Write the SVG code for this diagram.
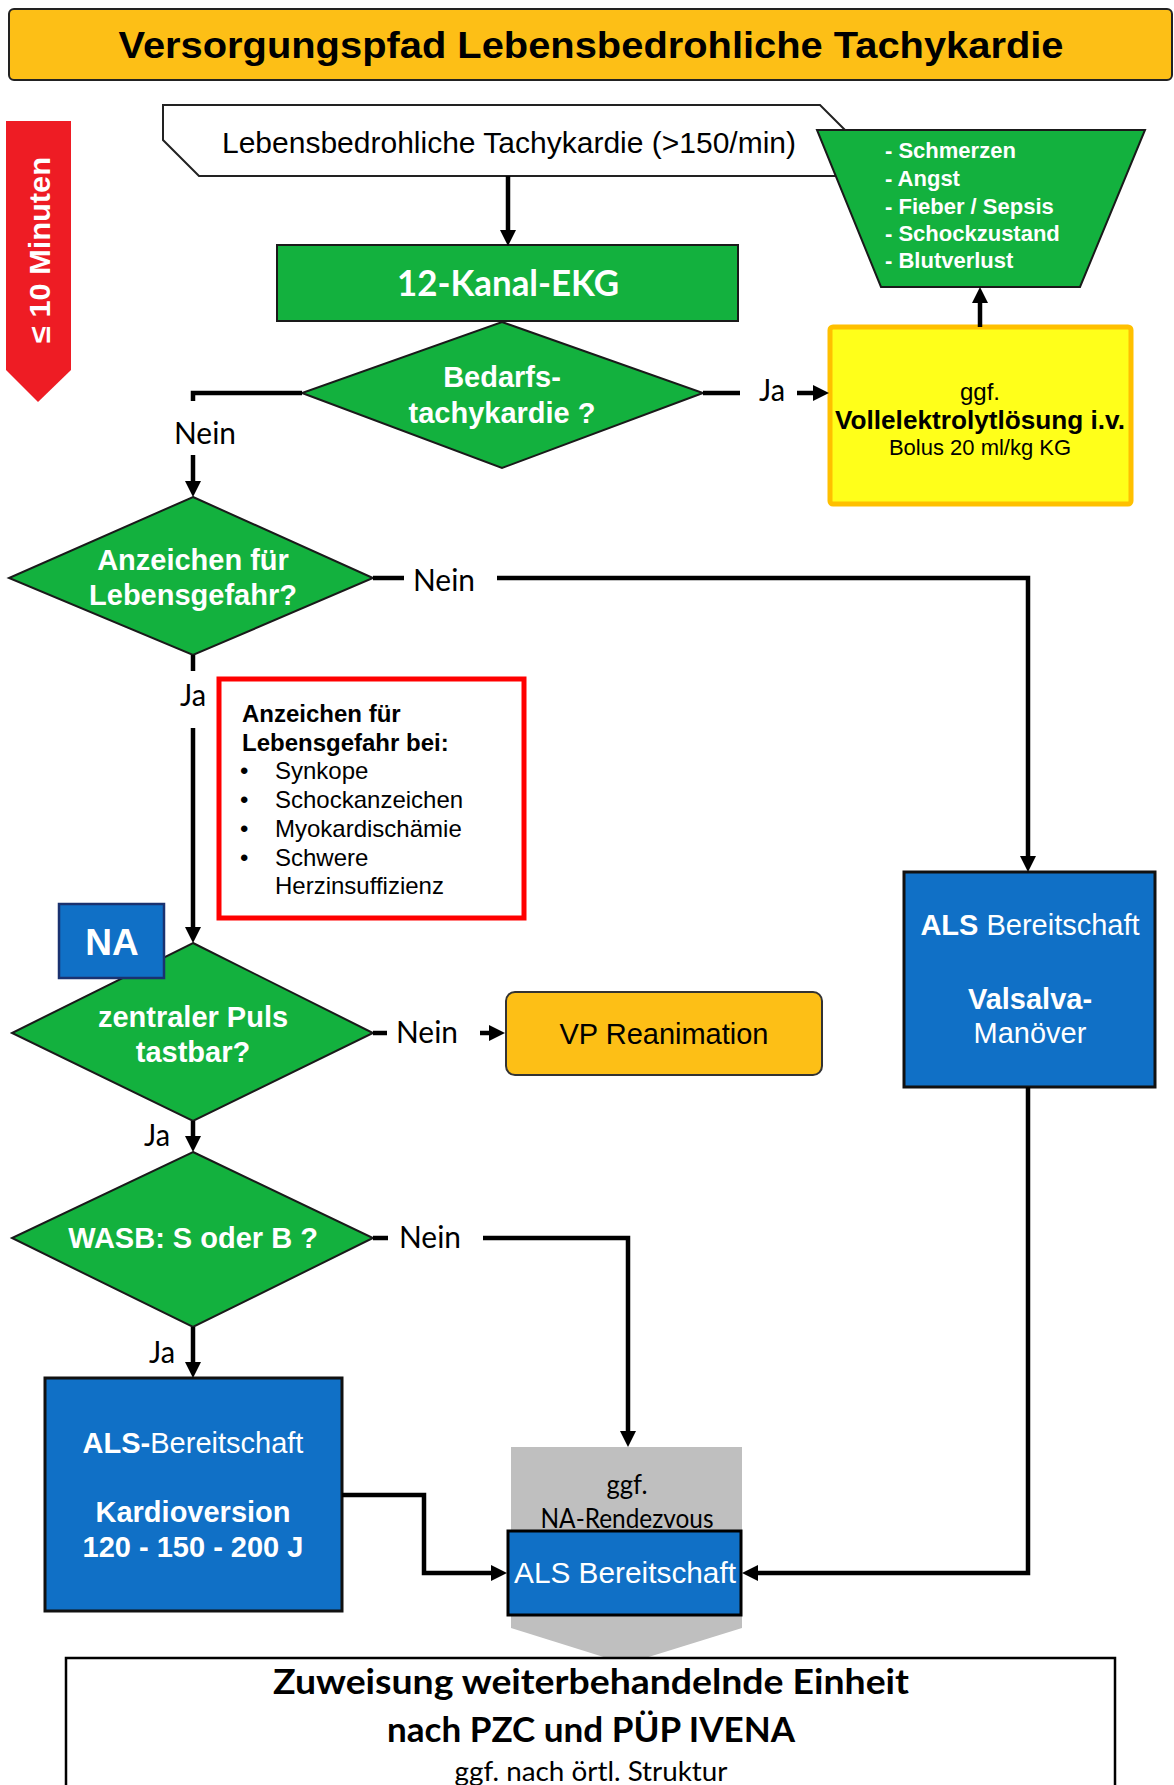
<svg xmlns="http://www.w3.org/2000/svg" width="1174" height="1785" viewBox="0 0 1174 1785">
<style>
.ar{font-family:"Liberation Sans",Arial,sans-serif}
.cb{font-family:Lato,"Liberation Sans",sans-serif}
.w{fill:#fff}
.k{fill:#000}
.b{font-weight:bold}
.mid{text-anchor:middle}
.green{fill:#13B13E;stroke:#1a1a1a;stroke-width:2}
.blue{fill:#1070C6;stroke:#111;stroke-width:3}
.conn{fill:none;stroke:#000;stroke-width:4.5;stroke-linejoin:miter}
.lbl{font-family:Lato,"Liberation Sans",sans-serif;font-size:30px;fill:#000;text-anchor:middle}
</style>
<defs>
<marker id="ah" markerUnits="userSpaceOnUse" viewBox="0 0 16 16" refX="6" refY="8" markerWidth="16" markerHeight="16" orient="auto">
<path d="M0,0 L16,8 L0,16 z" fill="#000"/>
</marker>
</defs>
<rect width="1174" height="1785" fill="#fff"/>

<g id="title">
<rect x="9" y="9" width="1163" height="71" rx="5" fill="#FDBF16" stroke="#222" stroke-width="2"/>
<text class="ar b k mid" x="591" y="58" font-size="37" textLength="945" lengthAdjust="spacingAndGlyphs">Versorgungspfad Lebensbedrohliche Tachykardie</text>
</g>

<g id="time">
<polygon points="6,121 71,121 71,370 38,402 6,370" fill="#EE1C24"/>
<text class="ar b w mid" font-size="29" transform="translate(50,250) rotate(-90)" textLength="186" lengthAdjust="spacingAndGlyphs">≤ 10 Minuten</text>
</g>

<g id="start">
<polygon points="163,105 820,105 855,140 855,176 199,176 163,140" fill="#fff" stroke="#222" stroke-width="2"/>
<text class="ar k" x="222" y="153" font-size="29" textLength="574" lengthAdjust="spacingAndGlyphs">Lebensbedrohliche Tachykardie (&gt;150/min)</text>
</g>

<g id="causes">
<polygon points="817,130 1145,130 1080,287 881,287" class="green"/>
<g class="ar b w" font-size="22">
<text x="885" y="158">- Schmerzen</text>
<text x="885" y="186">- Angst</text>
<text x="885" y="214">- Fieber / Sepsis</text>
<text x="885" y="241">- Schockzustand</text>
<text x="885" y="268">- Blutverlust</text>
</g>
</g>

<g id="ekg">
<rect x="277" y="245" width="461" height="76" class="green" stroke-width="2.5"/>
<text class="cb b w mid" x="508" y="296" font-size="36" textLength="222" lengthAdjust="spacingAndGlyphs">12-Kanal-EKG</text>
</g>

<g id="d1">
<polygon points="502,322 703,393 502,468 302,393" class="green"/>
<text class="ar b w mid" x="502" y="387" font-size="29">Bedarfs-</text>
<text class="ar b w mid" x="502" y="423" font-size="29">tachykardie ?</text>
</g>

<g id="volume">
<rect x="830" y="327" width="301" height="177" rx="3" fill="#FFFF1A" stroke="#FFC000" stroke-width="5"/>
<text class="ar k mid" x="980" y="400" font-size="24">ggf.</text>
<text class="ar b k mid" x="980" y="429" font-size="25" textLength="290" lengthAdjust="spacingAndGlyphs">Vollelektrolytlösung i.v.</text>
<text class="ar k mid" x="980" y="455" font-size="22">Bolus 20 ml/kg KG</text>
</g>

<g id="d2">
<polygon points="193,497 373,578 193,655 9,578" class="green"/>
<text class="ar b w mid" x="193" y="570" font-size="29">Anzeichen für</text>
<text class="ar b w mid" x="193" y="605" font-size="29">Lebensgefahr?</text>
</g>

<g id="signs">
<rect x="219" y="679" width="305" height="239" fill="#fff" stroke="#FF0000" stroke-width="5"/>
<g class="ar k" font-size="24">
<text class="b" x="242" y="722">Anzeichen für</text>
<text class="b" x="242" y="751">Lebensgefahr bei:</text>
<text x="240" y="779">•</text><text x="275" y="779">Synkope</text>
<text x="240" y="808">•</text><text x="275" y="808">Schockanzeichen</text>
<text x="240" y="837">•</text><text x="275" y="837">Myokardischämie</text>
<text x="240" y="866">•</text><text x="275" y="866">Schwere</text>
<text x="275" y="894">Herzinsuffizienz</text>
</g>
</g>

<g id="d3">
<polygon points="193,943 373,1033 193,1121 12,1033" class="green"/>
<text class="ar b w mid" x="193" y="1027" font-size="29">zentraler Puls</text>
<text class="ar b w mid" x="193" y="1062" font-size="29">tastbar?</text>
</g>

<g id="na">
<rect x="59" y="904" width="105" height="74" fill="#1070C6" stroke="#1A3270" stroke-width="2.5"/>
<text class="ar b w mid" x="112" y="955" font-size="37">NA</text>
</g>

<g id="vp">
<rect x="506" y="992" width="316" height="83" rx="9" fill="#FDBF16" stroke="#333" stroke-width="2"/>
<text class="ar k mid" x="664" y="1044" font-size="29">VP Reanimation</text>
</g>

<g id="valsalva">
<rect x="904" y="872" width="251" height="215" class="blue"/>
<text class="ar w mid" x="1030" y="935" font-size="29"><tspan class="b">ALS</tspan> Bereitschaft</text>
<text class="ar b w mid" x="1030" y="1009" font-size="29">Valsalva-</text>
<text class="ar w mid" x="1030" y="1043" font-size="29">Manöver</text>
</g>

<g id="d4">
<polygon points="193,1152 373,1238 193,1327 12,1238" class="green"/>
<text class="ar b w mid" x="193" y="1248" font-size="29">WASB: S oder B ?</text>
</g>

<g id="kardioversion">
<rect x="45" y="1378" width="297" height="233" class="blue"/>
<text class="ar w mid" x="193" y="1453" font-size="29"><tspan class="b">ALS-</tspan>Bereitschaft</text>
<text class="ar b w mid" x="193" y="1522" font-size="29">Kardioversion</text>
<text class="ar b w mid" x="193" y="1557" font-size="29">120 - 150 - 200 J</text>
</g>

<g id="rendezvous">
<polygon points="511,1447 742,1447 742,1628 626,1664 511,1628" fill="#BFBFBF"/>
<text class="cb k mid" x="627" y="1494" font-size="26" textLength="41" lengthAdjust="spacingAndGlyphs">ggf.</text>
<text class="cb k mid" x="627" y="1528" font-size="26" textLength="173" lengthAdjust="spacingAndGlyphs">NA-Rendezvous</text>
</g>

<g id="als">
<rect x="508" y="1531" width="233" height="84" fill="#1070C6" stroke="#000" stroke-width="3"/>
<text class="ar w mid" x="625" y="1583" font-size="29" textLength="222" lengthAdjust="spacingAndGlyphs">ALS Bereitschaft</text>
</g>

<g id="assign">
<rect x="66" y="1658" width="1049" height="140" fill="#fff" stroke="#000" stroke-width="2.5"/>
<text class="cb b k mid" x="591" y="1694" font-size="34" textLength="636" lengthAdjust="spacingAndGlyphs">Zuweisung weiterbehandelnde Einheit</text>
<text class="cb b k mid" x="591" y="1742" font-size="34" textLength="408" lengthAdjust="spacingAndGlyphs">nach PZC und PÜP IVENA</text>
<text class="cb k mid" x="591" y="1781" font-size="26" textLength="273" lengthAdjust="spacingAndGlyphs">ggf. nach örtl. Struktur</text>
</g>

<g id="connectors">
<path class="conn" d="M508,176 V236" marker-end="url(#ah)"/>
<path class="conn" d="M302,393 H193 V401"/>
<path class="conn" d="M193,455 V487" marker-end="url(#ah)"/>
<path class="conn" d="M703,393 H740"/>
<path class="conn" d="M797,393 H819" marker-end="url(#ah)"/>
<path class="conn" d="M980,327 V297" marker-end="url(#ah)"/>
<path class="conn" d="M373,578 H404"/>
<path class="conn" d="M497,578 H1028 V862" marker-end="url(#ah)"/>
<path class="conn" d="M193,655 V671"/>
<path class="conn" d="M193,728 V933" marker-end="url(#ah)"/>
<path class="conn" d="M373,1033 H387"/>
<path class="conn" d="M480,1033 H495" marker-end="url(#ah)"/>
<path class="conn" d="M193,1121 V1142" marker-end="url(#ah)"/>
<path class="conn" d="M373,1238 H388"/>
<path class="conn" d="M483,1238 H628 V1437" marker-end="url(#ah)"/>
<path class="conn" d="M193,1327 V1368" marker-end="url(#ah)"/>
<path class="conn" d="M342,1495 H424 V1573 H497" marker-end="url(#ah)"/>
<path class="conn" d="M1028,1087 V1573 H752" marker-end="url(#ah)"/>
<text class="lbl" x="205" y="444" textLength="62" lengthAdjust="spacingAndGlyphs">Nein</text>
<text class="lbl" x="772" y="401" textLength="26" lengthAdjust="spacingAndGlyphs">Ja</text>
<text class="lbl" x="444" y="591" textLength="62" lengthAdjust="spacingAndGlyphs">Nein</text>
<text class="lbl" x="193" y="706" textLength="26" lengthAdjust="spacingAndGlyphs">Ja</text>
<text class="lbl" x="427" y="1043" textLength="62" lengthAdjust="spacingAndGlyphs">Nein</text>
<text class="lbl" x="157" y="1146" textLength="26" lengthAdjust="spacingAndGlyphs">Ja</text>
<text class="lbl" x="430" y="1248" textLength="62" lengthAdjust="spacingAndGlyphs">Nein</text>
<text class="lbl" x="162" y="1363" textLength="26" lengthAdjust="spacingAndGlyphs">Ja</text>
</g>
</svg>
